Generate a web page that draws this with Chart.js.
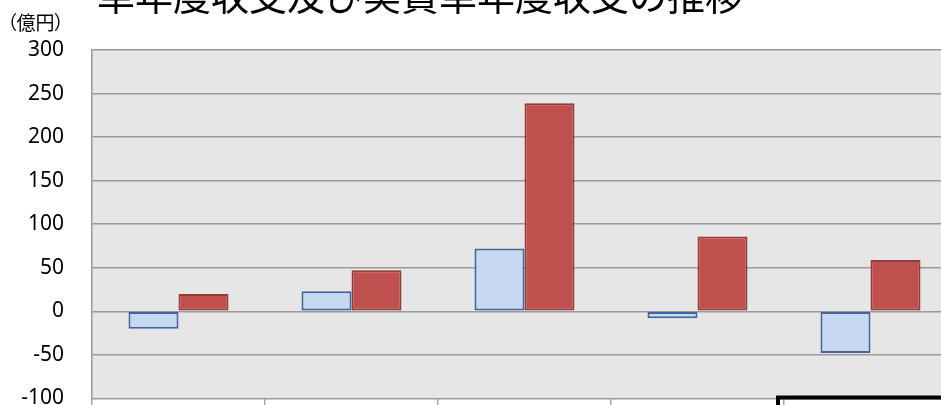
<!DOCTYPE html>
<html>
<head>
<meta charset="utf-8">
<script src="https://cdn.jsdelivr.net/npm/chart.js@4/dist/chart.umd.min.js"></script>
<style>
  html, body { margin: 0; padding: 0; background: #fff; overflow: hidden; width: 941px; height: 405px; }
  .wrap { position: relative; width: 941px; height: 405px; overflow: hidden; }
  #chart { position: absolute; left: 0; top: 0; }
  .title { position: absolute; left: 97px; top: -25px; font: 38px/38px "Noto Sans CJK JP"; color: #000; white-space: nowrap; }
  .unit { position: absolute; left: 7px; top: 12px; font: 19px/19px "Noto Sans CJK JP"; font-feature-settings: "palt"; color: #000; white-space: nowrap; }
</style>
</head>
<body>
<div class="wrap">
  <canvas id="chart" width="980" height="439"></canvas>
  <div class="title">単年度収支及び実質単年度収支の推移</div>
  <div class="unit">（億円）</div>
</div>
<script>
// categories are cut off in the picture, kept only as labels
const years = ['1', '2', '3', '4', '5'];
const singleYear = [-20, 23, 72, -8, -48];   // 単年度収支
const realSingleYear = [20, 47, 239, 86, 59]; // 実質単年度収支
const yTicks = [-100, -50, 0, 50, 100, 150, 200, 250, 300];

const plotBg = {
  id: 'plotBg',
  beforeDraw(chart) {
    const { ctx, chartArea: a } = chart;
    ctx.save();
    ctx.fillStyle = '#e6e6e6';
    ctx.fillRect(a.left, a.top, a.right - a.left, a.bottom - a.top);
    ctx.restore();
  }
};

// black selection box below the plot (spreadsheet cell)
const cellBox = {
  id: 'cellBox',
  afterDraw(chart) {
    const { ctx, chartArea: a, scales: { x } } = chart;
    const boundary = x.getPixelForValue(4) - x.width / years.length / 2;
    ctx.save();
    ctx.strokeStyle = '#000';
    ctx.lineWidth = 4;
    ctx.beginPath();
    ctx.moveTo(boundary - 6, chart.height);
    ctx.lineTo(boundary - 6, a.bottom - 1);
    ctx.lineTo(chart.width, a.bottom - 1);
    ctx.stroke();
    ctx.restore();
  }
};

new Chart(document.getElementById('chart'), {
  type: 'bar',
  data: {
    labels: years,
    datasets: [
      {
        label: '単年度収支',
        data: singleYear,
        backgroundColor: '#c6d9f1',
        borderColor: '#41659a',
        borderWidth: 2,
        borderSkipped: false
      },
      {
        label: '実質単年度収支',
        data: realSingleYear,
        backgroundColor: '#c0504d',
        borderColor: '#943a37',
        borderWidth: 2,
        borderSkipped: false
      }
    ]
  },
  options: {
    responsive: false,
    animation: false,
    layout: { padding: { left: 18, right: 23, top: 50, bottom: 0 } },
    datasets: { bar: { barPercentage: 1, categoryPercentage: 0.578 } },
    plugins: {
      legend: { display: false },
      tooltip: { enabled: false },
      title: { display: false }
    },
    scales: {
      x: {
        offset: true,
        afterFit(axis) { axis.height = 22; },
        grid: {
          offset: true,
          drawOnChartArea: false,
          drawTicks: true,
          tickLength: 22,
          color: '#a6a6a6',
          lineWidth: 1.5
        },
        border: { display: false },
        ticks: { display: false }
      },
      y: {
        min: -100,
        max: 300,
        afterBuildTicks(axis) { axis.ticks = yTicks.map(v => ({ value: v })); },
        afterFit(axis) { axis.width = 74; },
        grid: { color: '#999999', lineWidth: 1.5, drawTicks: false },
        border: { display: true, color: '#999999', width: 1.5 },
        ticks: {
          padding: 28,
          color: '#000',
          font: { family: 'Noto Sans', size: 21 }
        }
      }
    }
  },
  plugins: [plotBg, cellBox]
});
</script>
</body>
</html>
